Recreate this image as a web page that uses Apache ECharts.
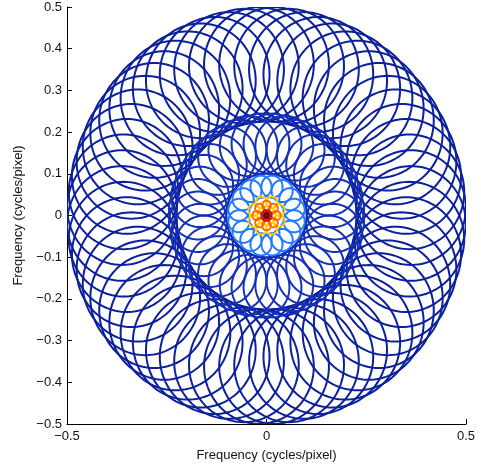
<!DOCTYPE html>
<html><head><meta charset="utf-8">
<script src="https://cdn.jsdelivr.net/npm/echarts@6/dist/echarts.min.js"></script>
<style>html,body{margin:0;padding:0;background:#fff}#c{width:481px;height:467px}</style>
</head><body><div id="c"></div>
<script>
// Filter-bank scales, outermost first (frequency-plane half-peak contours)
const ringRadius     = [0.3625, 0.1725, 0.0705, 0.034, 0.0245, 0.0095, 0.0045];
const circleRadius   = [0.1375, 0.0725, 0.0265, 0.014, 0.011, 0.0035, 0.002];
const circleCount    = [60, 36, 16, 8, 8, 8, 8];
const angleOffsetDeg = [3, 5, 11.25, 22.5, 0, 22.5, 0];
const xTicks = [-0.5, 0, 0.5];
const yTicks = [-0.5, -0.4, -0.3, -0.2, -0.1, 0, 0.1, 0.2, 0.3, 0.4, 0.5];

// styles (kept separate from data)
const scaleColors = ['#0c209c', '#1530b4', '#2079ff', '#ffd200', '#ff6a00', '#b81414', '#7a0000'];
const scaleWidths = [2, 2, 2, 2, 2, 2, 1.5];

function circlesFor(s) {
  const out = [];
  for (let k = 0; k < circleCount[s]; k++) {
    const a = (angleOffsetDeg[s] + k * 360 / circleCount[s]) * Math.PI / 180;
    out.push([ringRadius[s] * Math.cos(a), ringRadius[s] * Math.sin(a), circleRadius[s]]);
  }
  return out;
}

function makeRender(lw) {
  return function (params, api) {
    const cx = api.value(0), cy = api.value(1), r = api.value(2);
    const pts = [];
    const N = 120;
    for (let i = 0; i < N; i++) {
      const t = 2 * Math.PI * i / N;
      pts.push(api.coord([cx + r * Math.cos(t), cy + r * Math.sin(t)]));
    }
    return {
      type: 'polygon',
      shape: { points: pts },
      style: { fill: 'none', stroke: api.visual('color'), lineWidth: lw }
    };
  };
}

const fmt = v => {
  const s = (Math.round(v * 10) / 10).toString();
  return s.replace('-', '\u2212');
};
const font = 'Liberation Sans, Arial, Helvetica, sans-serif';

const series = ringRadius.map((_, s) => ({
  type: 'custom',
  renderItem: makeRender(scaleWidths[s]),
  data: circlesFor(s),
  encode: { x: 0, y: 1 },
  itemStyle: { color: scaleColors[s] },
  clip: true,
  silent: true,
  animation: false
}));

const chart = echarts.init(document.getElementById('c'), null, { renderer: 'canvas' });
chart.setOption({
  animation: false,
  backgroundColor: '#fff',
  grid: { left: 67, right: 15, top: 7, bottom: 43, containLabel: false },
  xAxis: {
    type: 'value', min: xTicks[0], max: xTicks[xTicks.length - 1], interval: 0.5,
    axisLine: { onZero: false, lineStyle: { color: '#000', width: 1 } },
    axisTick: { inside: true, length: 5, lineStyle: { color: '#000' } },
    axisLabel: { color: '#111', fontSize: 13, fontFamily: font, margin: 6, formatter: fmt },
    splitLine: { show: false },
    name: 'Frequency (cycles/pixel)', nameLocation: 'middle', nameGap: 25,
    nameTextStyle: { color: '#111', fontSize: 13, fontFamily: font }
  },
  yAxis: {
    type: 'value', min: yTicks[0], max: yTicks[yTicks.length - 1], interval: 0.1,
    axisLine: { onZero: false, lineStyle: { color: '#000', width: 1 } },
    axisTick: { inside: true, length: 5, lineStyle: { color: '#000' } },
    axisLabel: { color: '#111', fontSize: 13, fontFamily: font, margin: 5, formatter: fmt },
    splitLine: { show: false },
    name: 'Frequency (cycles/pixel)', nameLocation: 'middle', nameGap: 42, nameRotate: 90,
    nameTextStyle: { color: '#111', fontSize: 13, fontFamily: font }
  },
  series: series
});
</script></body></html>
